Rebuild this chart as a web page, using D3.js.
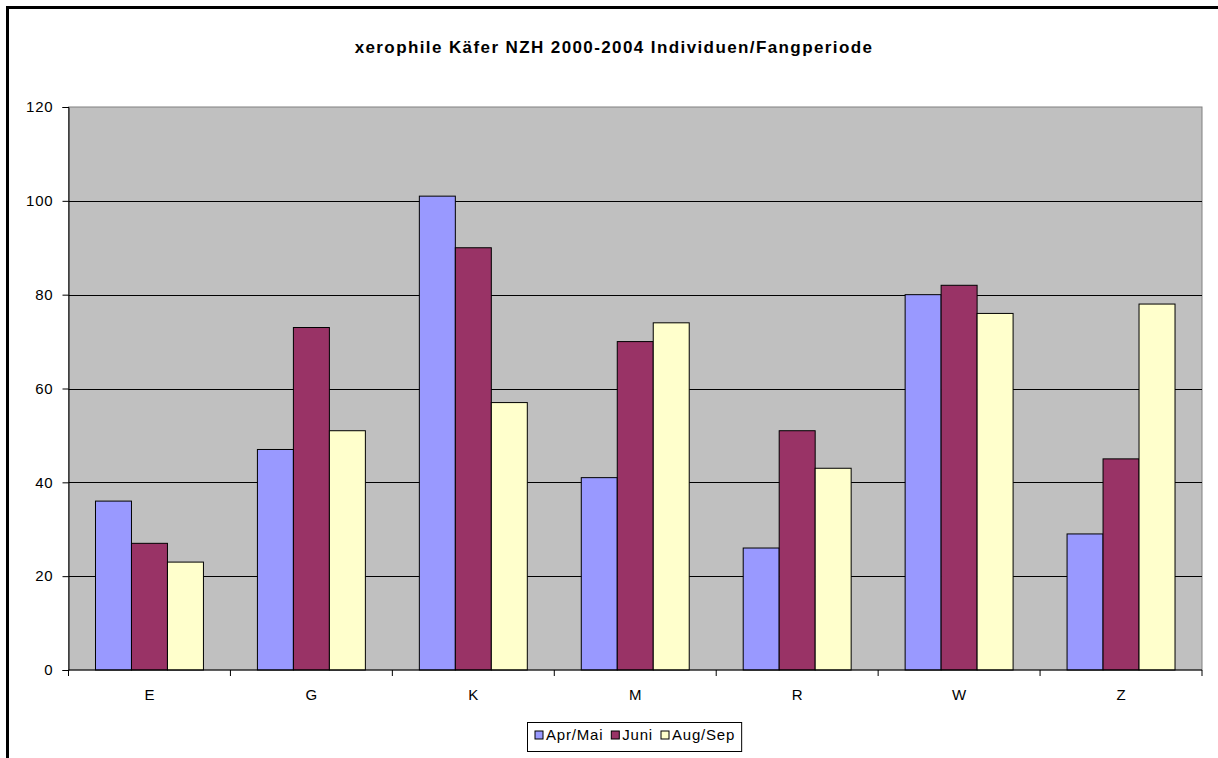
<!DOCTYPE html>
<html>
<head>
<meta charset="utf-8">
<script src="https://cdn.jsdelivr.net/npm/d3@7"></script>
<style>
  html, body { margin: 0; background: #fff; overflow: hidden; }
  svg { display: block; }
  text { font-family: "Liberation Sans", Arial, sans-serif; }
</style>
</head>
<body>
<div id="chart"></div>
<script>
// data
var categories = ["E", "G", "K", "M", "R", "W", "Z"];
var series = ["Apr/Mai", "Juni", "Aug/Sep"];
var aprMai = [36, 47, 101, 41, 26, 80, 29];
var juni   = [27, 73, 90, 70, 51, 82, 45];
var augSep = [23, 51, 57, 74, 43, 76, 78];
var yTicks = [0, 20, 40, 60, 80, 100, 120];
var colors = ["#9999FF", "#993366", "#FFFFCC"];

var title = "xerophile Käfer NZH 2000-2004 Individuen/Fangperiode";

var W = 1218, H = 758;
var plot = {left: 68.5, right: 1202, top: 107, bottom: 670};

var svg = d3.select("#chart")
  .append("svg")
    .attr("width", W)
    .attr("height", H);

svg.append("rect")
  .attr("width", W).attr("height", H)
  .attr("fill", "#fff");

// outer chart frame: only top and left edges are inside the picture
svg.append("path")
  .attr("d", "M7.5," + H + "V7.5H" + W)
  .attr("fill", "none")
  .attr("stroke", "#000")
  .attr("stroke-width", 3);

// scales
var x0 = d3.scaleBand()
  .domain(categories)
  .range([plot.left, plot.right])
  .padding(0);

var x1 = d3.scaleBand()
  .domain(series)
  .range([0, x0.bandwidth()])
  .paddingInner(0)
  .paddingOuter(0.75);

var y = d3.scaleLinear()
  .domain([0, 120])
  .range([plot.bottom, plot.top]);

var color = d3.scaleOrdinal().domain(series).range(colors);

// plot background
svg.append("rect")
  .attr("x", plot.left).attr("y", plot.top)
  .attr("width", plot.right - plot.left)
  .attr("height", plot.bottom - plot.top)
  .attr("fill", "#C0C0C0")
  .attr("stroke", "#808080")
  .attr("stroke-width", 1);

// gridlines
svg.append("g")
  .selectAll("line")
  .data(yTicks.filter(function(d) { return d > 0 && d < 120; }))
  .enter()
  .append("line")
    .attr("x1", plot.left).attr("x2", plot.right)
    .attr("y1", function(d) { return Math.round(y(d)) + 0.5; })
    .attr("y2", function(d) { return Math.round(y(d)) + 0.5; })
    .attr("stroke", "#000")
    .attr("stroke-width", 1);

// bars
var rows = categories.map(function(c, i) {
  return {cat: c, values: [aprMai[i], juni[i], augSep[i]]};
});

svg.append("g")
  .selectAll("g")
  .data(rows)
  .enter()
  .append("g")
    .attr("transform", function(d) { return "translate(" + x0(d.cat) + ",0)"; })
  .selectAll("rect")
  .data(function(d) { return d.values.map(function(v, j) { return {key: series[j], value: v}; }); })
  .enter()
  .append("rect")
    .attr("x", function(d) { return x1(d.key); })
    .attr("y", function(d) { return y(d.value); })
    .attr("width", x1.bandwidth())
    .attr("height", function(d) { return y(0) - y(d.value); })
    .attr("fill", function(d) { return color(d.key); })
    .attr("stroke", "#000")
    .attr("stroke-width", 1);

// y axis
var yAxis = svg.append("g")
  .attr("transform", "translate(" + plot.left + ",0)")
  .call(d3.axisLeft(y).tickValues(yTicks).tickSize(6).tickPadding(9));
yAxis.select(".domain").attr("stroke", "#000");
yAxis.selectAll("line").attr("stroke", "#000");
yAxis.selectAll("text")
  .attr("font-size", 15)
  .attr("letter-spacing", 0.8)
  .attr("fill", "#000")
  .style("font-family", "'Liberation Sans', Arial, sans-serif");

// x axis: ticks at category boundaries
var xAxis = svg.append("g")
  .attr("transform", "translate(0," + plot.bottom + ")");
xAxis.append("line")
  .attr("x1", plot.left).attr("x2", plot.right)
  .attr("stroke", "#000");
xAxis.selectAll(".tick")
  .data(categories.concat(["end"]))
  .enter()
  .append("line")
    .attr("x1", function(d, i) { return i < categories.length ? x0(d) : plot.right; })
    .attr("x2", function(d, i) { return i < categories.length ? x0(d) : plot.right; })
    .attr("y1", 0).attr("y2", 6)
    .attr("stroke", "#000");
xAxis.selectAll(".cat")
  .data(categories)
  .enter()
  .append("text")
    .attr("x", function(d) { return x0(d) + x0.bandwidth() / 2; })
    .attr("y", 30)
    .attr("text-anchor", "middle")
    .attr("font-size", 15)
    .text(function(d) { return d; });

// title
svg.append("text")
  .attr("x", 614)
  .attr("y", 53)
  .attr("text-anchor", "middle")
  .attr("font-size", 17)
  .attr("font-weight", "bold")
  .attr("letter-spacing", 1.4)
  .text(title);

// legend
var legend = svg.append("g");
var lx = 0;
var items = legend.selectAll("g")
  .data(series)
  .enter()
  .append("g");
items.append("rect")
  .attr("width", 8).attr("height", 8)
  .attr("y", -9)
  .attr("fill", function(d) { return color(d); })
  .attr("stroke", "#000");
items.append("text")
  .attr("x", 11)
  .attr("font-size", 15)
  .attr("letter-spacing", 0.8)
  .text(function(d) { return d; });
items.each(function() {
  var g = d3.select(this);
  g.attr("transform", "translate(" + lx + ",0)");
  lx += 11 + g.select("text").node().getComputedTextLength() + 8;
});
var legW = lx - 8 + 14;
var legX = 528, legY = 722;
legend.insert("rect", ":first-child")
  .attr("x", -7.5).attr("y", -17.5)
  .attr("width", legW).attr("height", 29)
  .attr("fill", "#fff")
  .attr("stroke", "#000");
legend.attr("transform", "translate(" + (legX + 7) + "," + (legY + 18) + ")");
</script>
</body>
</html>
